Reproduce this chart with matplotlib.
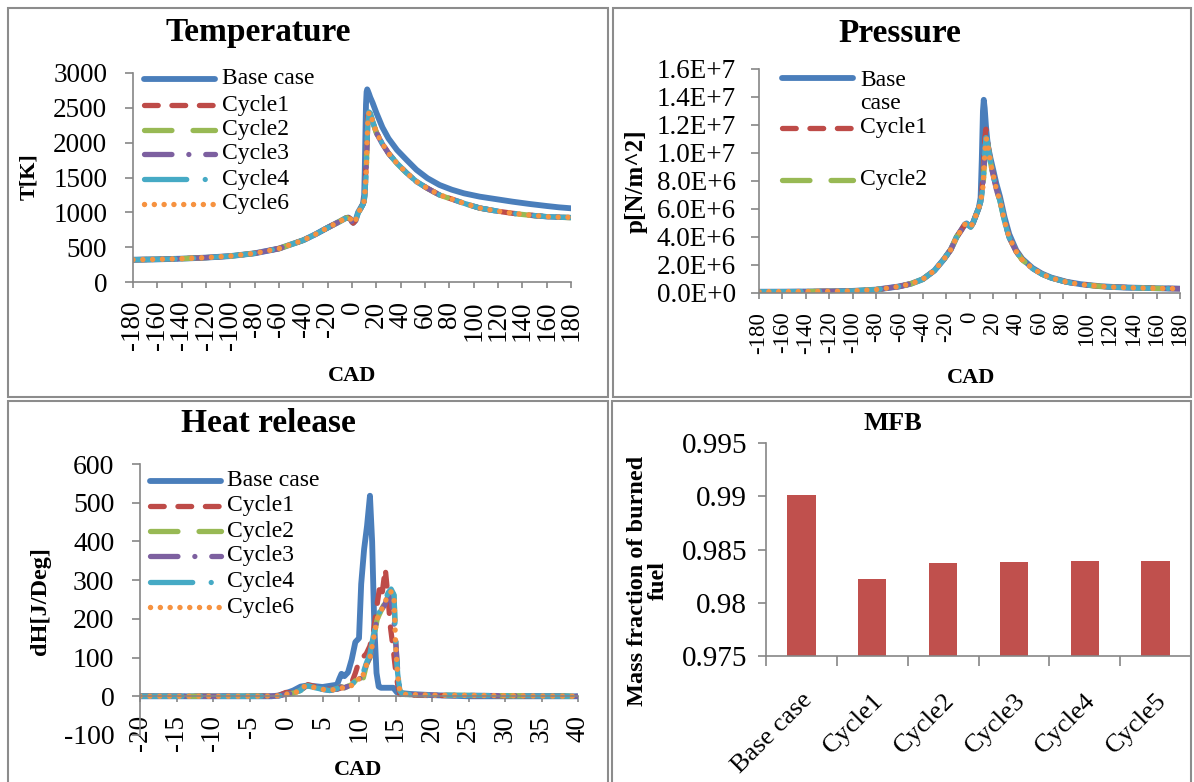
import matplotlib
matplotlib.use("Agg")
import matplotlib.pyplot as plt
from matplotlib.lines import Line2D
from matplotlib.patches import Rectangle
from matplotlib.ticker import FuncFormatter, MultipleLocator, FixedLocator

plt.rcParams['font.family'] = ['Liberation Serif', 'DejaVu Serif']
plt.rcParams['axes.unicode_minus'] = False

W, H = 1194, 782

# ---------------- data ----------------
series_names = ['Base case', 'Cycle1', 'Cycle2', 'Cycle3', 'Cycle4', 'Cycle6']

# Temperature [K]; compression part (-180..0) is shared by all runs
temp_cad_early = [-180, -160, -140, -120, -100, -80, -60, -40, -30, -20, -10, -5, -3, -1, 0]
temp_early = [320, 325, 335, 350, 372, 412, 480, 600, 685, 780, 870, 918, 925, 900, 865]
temp_cad_late = [1, 3, 5, 7, 9, 10, 10.5, 11, 11.5, 12, 12.5, 13, 14, 15, 17, 20, 25, 30, 37,
                 45, 53, 62, 72, 82, 92, 105, 120, 132, 146, 160, 170, 180]
temp_base = [850, 885, 1000, 1060, 1120, 1250, 1600, 2100, 2550, 2730, 2765, 2745, 2700, 2650,
             2570, 2430, 2220, 2060, 1895, 1750, 1610, 1490, 1392, 1325, 1273, 1225, 1185,
             1153, 1120, 1091, 1072, 1058]
temp_c1 = [845, 885, 990, 1050, 1120, 1170, 1280, 1450, 1650, 1950, 2200, 2380, 2440, 2410,
           2300, 2150, 1985, 1850, 1704, 1565, 1440, 1345, 1249, 1190, 1130, 1062, 1015, 986,
           960, 937, 930, 925]
temp_c2 = [845, 885, 990, 1050, 1115, 1160, 1250, 1380, 1500, 1750, 2050, 2280, 2430, 2420,
           2300, 2140, 1980, 1845, 1700, 1560, 1440, 1343, 1248, 1188, 1128, 1060, 1014, 985,
           958, 936, 929, 924]
temp_c3 = [845, 885, 990, 1050, 1115, 1160, 1250, 1390, 1510, 1760, 2060, 2290, 2435, 2420,
           2300, 2140, 1980, 1845, 1702, 1562, 1441, 1344, 1249, 1189, 1129, 1061, 1015, 986,
           959, 937, 930, 926]
temp_c4 = [845, 885, 990, 1050, 1115, 1160, 1250, 1380, 1505, 1750, 2050, 2285, 2440, 2425,
           2305, 2145, 1985, 1848, 1704, 1564, 1442, 1345, 1250, 1190, 1130, 1062, 1016, 987,
           960, 938, 931, 925]
temp_c6 = [845, 885, 990, 1050, 1115, 1160, 1250, 1385, 1505, 1755, 2055, 2285, 2440, 2425,
           2305, 2145, 1985, 1848, 1704, 1564, 1442, 1345, 1250, 1190, 1130, 1062, 1016, 987,
           960, 938, 931, 928]

# Pressure [N/m^2], in units of 1e6; compression part shared
pres_cad_early = [-180, -160, -140, -120, -100, -80, -60, -50, -40, -30, -22, -16, -11, -7, -4,
                  -2.5, -1, 1]
pres_early = [0.09, 0.095, 0.105, 0.12, 0.15, 0.24, 0.47, 0.66, 0.98, 1.6, 2.4, 3.1, 4.0, 4.5,
              4.9, 4.97, 4.85, 4.72]
pres_cad_late = [3, 5.5, 8, 9.5, 10.5, 11.5, 12.2, 13, 14, 15, 16, 18, 20, 23, 26, 30, 34, 40,
                 45, 54, 62, 70, 83, 95, 111, 125, 140, 160, 180]
pres_base = [5.0, 5.55, 6.1, 6.8, 9.5, 13.0, 13.8, 13.2, 12.0, 11.1, 10.4, 9.6, 8.9, 7.8, 6.9,
             5.4, 4.2, 3.05, 2.45, 1.78, 1.38, 1.1, 0.8, 0.63, 0.49, 0.42, 0.38, 0.34, 0.31]
pres_c1 = [5.0, 5.55, 6.1, 6.5, 7.2, 8.3, 9.6, 11.0, 11.7, 11.2, 10.5, 9.4, 8.6, 7.5, 6.7,
           5.2, 4.0, 3.0, 2.4, 1.75, 1.35, 1.08, 0.79, 0.62, 0.48, 0.42, 0.38, 0.34, 0.31]
pres_c2 = [5.0, 5.55, 6.1, 6.5, 7.0, 7.6, 8.4, 9.8, 11.0, 11.0, 10.4, 9.3, 8.5, 7.4, 6.6,
           5.1, 3.95, 2.95, 2.38, 1.74, 1.34, 1.07, 0.78, 0.61, 0.48, 0.41, 0.37, 0.33, 0.31]
pres_c3 = [5.0, 5.55, 6.1, 6.5, 7.0, 7.7, 8.5, 9.9, 11.1, 11.0, 10.4, 9.3, 8.5, 7.4, 6.6,
           5.1, 3.95, 2.95, 2.38, 1.74, 1.34, 1.07, 0.78, 0.61, 0.48, 0.41, 0.37, 0.33, 0.31]
pres_c4 = [5.0, 5.55, 6.1, 6.5, 7.0, 7.6, 8.5, 9.9, 11.1, 11.0, 10.4, 9.3, 8.5, 7.4, 6.6,
           5.1, 3.95, 2.95, 2.38, 1.74, 1.34, 1.07, 0.78, 0.61, 0.48, 0.41, 0.37, 0.33, 0.31]
pres_c6 = [5.0, 5.55, 6.1, 6.5, 7.0, 7.6, 8.5, 9.9, 11.0, 11.0, 10.4, 9.3, 8.5, 7.4, 6.6,
           5.1, 3.95, 2.95, 2.38, 1.74, 1.34, 1.07, 0.78, 0.61, 0.48, 0.41, 0.37, 0.33, 0.31]

# Heat release [J/Deg]
hr_cad_base = [-20, -10, -2, -1, 0, 1, 2, 3, 4, 5, 6, 7, 7.3, 7.6, 8, 8.5, 9, 9.5, 10, 10.3,
               10.7, 11.1, 11.5, 11.8, 12.1, 12.4, 12.7, 13, 14, 14.7, 15.2, 16, 17, 20, 25, 40]
hr_base = [0, 0, 0, 2, 8, 15, 25, 28, 26, 24, 27, 30, 45, 58, 52, 62, 95, 140, 150, 290,
           380, 440, 518, 400, 180, 60, 25, 22, 22, 22, 10, 8, 6, 3, 0, 0]
hr_cad_c1 = [-20, -5, -1, 0, 1, 2, 3, 4, 5, 6, 7, 8, 9, 9.5, 10, 10.5, 11, 11.5, 12, 12.5,
             12.9, 13.2, 13.6, 14, 14.3, 14.7, 15, 15.3, 15.6, 16, 20, 40]
hr_c1 = [0, 0, 2, 10, 8, 15, 30, 25, 20, 18, 18, 25, 35, 60, 90, 100, 110, 130, 170, 240,
         290, 270, 330, 250, 180, 120, 70, 30, 5, 3, 2, 0]
hr_cad_cyc = [-20, -5, -1, 0, 1, 2, 2.5, 3, 4, 5, 6, 7, 7.5, 8, 9, 9.5, 10, 10.3, 11, 11.5,
              12, 12.5, 13, 13.5, 14, 14.4, 14.8, 15, 15.3, 15.6, 16, 20, 40]
hr_c2 = [0, 0, 1, 5, 8, 15, 25, 27, 22, 18, 15, 20, 25, 22, 30, 40, 45, 25, 80, 100, 150, 200,
         220, 240, 265, 275, 260, 150, 60, 15, 5, 3, 0]
hr_c3 = [0, 0, 1, 5, 8, 15, 24, 26, 22, 18, 15, 19, 24, 22, 30, 42, 50, 40, 82, 102, 150,
         205, 222, 235, 260, 250, 190, 150, 65, 15, 5, 3, 0]
hr_c4 = [0, 0, 1, 5, 8, 15, 25, 27, 22, 18, 15, 20, 24, 21, 30, 40, 48, 45, 85, 110, 160, 205,
         225, 245, 268, 277, 262, 150, 58, 14, 5, 3, 0]
hr_c6 = [0, 0, 1, 5, 8, 15, 25, 27, 22, 18, 15, 19, 23, 20, 28, 38, 45, 40, 80, 100, 150, 200,
         220, 240, 263, 270, 255, 140, 55, 12, 5, 3, 0]

# Mass fraction burned
mfb_labels = ['Base case', 'Cycle1', 'Cycle2', 'Cycle3', 'Cycle4', 'Cycle5']
mfb_values = [0.9901, 0.9822, 0.9837, 0.9838, 0.9839, 0.9839]

# ---------------- styles ----------------
styles = {
    'Base case': dict(color='#4A7EBB', lw=4.2, ls='-', solid_capstyle='round'),
    'Cycle1': dict(color='#BE4B48', lw=3.8, dashes=(2.6, 2.6), dash_capstyle='round'),
    'Cycle2': dict(color='#98B954', lw=3.8, dashes=(5.2, 4.0), dash_capstyle='round'),
    'Cycle3': dict(color='#7D60A0', lw=3.8, dashes=(5.2, 3.2, 0.01, 3.2), dash_capstyle='round'),
    'Cycle4': dict(color='#46AAC5', lw=3.8, dashes=(8.0, 3.5, 0.01, 3.5), dash_capstyle='round'),
    'Cycle6': dict(color='#F69240', lw=3.9, dashes=(0.01, 1.8), dash_capstyle='round'),
}

fig = plt.figure(figsize=(W / 100, H / 100), dpi=100)


def fx(x):
    return x / W


def fy(y):
    return 1 - y / H


def axes_px(left, top, right, bottom):
    return fig.add_axes([fx(left), fy(bottom), (right - left) / W, (bottom - top) / H])


def style_axes(ax):
    for s in ['top', 'right']:
        ax.spines[s].set_visible(False)
    for s in ['left', 'bottom']:
        ax.spines[s].set_color('#868686')
        ax.spines[s].set_linewidth(1.2)
    ax.tick_params(color='#868686', width=1.2, direction='out')
    ax.tick_params(axis='y', length=5.5, pad=13)
    ax.tick_params(axis='x', length=4.5, pad=9)


def draw_legend(entries, x0, x1, xt, fs):
    for name, y, ty in entries:
        st = dict(styles[name])
        fig.add_artist(Line2D([fx(x0), fx(x1)], [fy(y), fy(y)], transform=fig.transFigure, **st))
        label = name if ty is None else name.replace(' ', '\n')
        fig.text(fx(xt), fy(y if ty is None else ty), label, fontsize=fs, va='center',
                 ha='left', linespacing=1.1)


# panel frames
for l, t, r, b in [(8, 8, 608, 397), (613, 8, 1191, 397), (8, 401, 608, 790), (612, 401, 1191, 790)]:
    fig.add_artist(Rectangle((fx(l), fy(b)), (r - l) / W, (b - t) / H, transform=fig.transFigure,
                             fill=False, edgecolor='#8c8c8c', lw=1.5))

# ---------------- Temperature ----------------
ax1 = axes_px(133, 73, 571, 282)
style_axes(ax1)
temp_series = [temp_base, temp_c1, temp_c2, temp_c3, temp_c4, temp_c6]
for name, tail in zip(series_names, temp_series):
    ax1.plot(temp_cad_early + temp_cad_late, temp_early + tail, **styles[name])
ax1.set_xlim(-180, 180)
ax1.set_ylim(0, 3000)
ax1.xaxis.set_major_locator(MultipleLocator(20))
ax1.yaxis.set_major_locator(MultipleLocator(500))
ax1.tick_params(axis='x', labelrotation=90, labelsize=19.5)
ax1.tick_params(axis='y', labelsize=19.5)
fig.text(fx(258), fy(33), 'Temperature', fontsize=24, fontweight='bold', ha='center', va='center')
fig.text(fx(29), fy(177), 'T[K]', fontsize=16, fontweight='bold', rotation=90, ha='center', va='center')
fig.text(fx(352), fy(376), 'CAD', fontsize=16, fontweight='bold', ha='center', va='center')
draw_legend([(n, y, None) for n, y in zip(series_names, [79, 105, 130, 154, 179, 204])],
            144, 215, 222, 17)

# ---------------- Pressure ----------------
ax2 = axes_px(759, 69, 1180, 293)
style_axes(ax2)
pres_series = [pres_base, pres_c1, pres_c2, pres_c3, pres_c4, pres_c6]
for name, tail in zip(series_names, pres_series):
    vals = [v * 1e6 for v in pres_early + tail]
    ax2.plot(pres_cad_early + pres_cad_late, vals, **styles[name])
ax2.set_xlim(-180, 180)
ax2.set_ylim(0, 1.6e7)
ax2.xaxis.set_major_locator(MultipleLocator(20))
ax2.yaxis.set_major_locator(MultipleLocator(2e6))


def sci_fmt(v, pos):
    if v == 0:
        return '0.0E+0'
    e = 6 if v < 1e7 else 7
    return '%.1fE+%d' % (v / 10 ** e, e)


ax2.yaxis.set_major_formatter(FuncFormatter(sci_fmt))
ax2.tick_params(axis='x', labelrotation=90, labelsize=16.5)
ax2.tick_params(axis='y', labelsize=19.5, pad=11)
fig.text(fx(900), fy(33), 'Pressure', fontsize=24, fontweight='bold', ha='center', va='center')
fig.text(fx(636), fy(181), 'p[N/m^2]', fontsize=18, fontweight='bold', rotation=90, ha='center', va='center')
fig.text(fx(971), fy(378), 'CAD', fontsize=16, fontweight='bold', ha='center', va='center')
draw_legend([('Base case', 78, 92), ('Cycle1', 128, None), ('Cycle2', 180, None)],
            782, 853, 860, 17)

# ---------------- Heat release ----------------
ax3 = axes_px(140, 464, 578, 735)
style_axes(ax3)
hr_data = [(hr_cad_base, hr_base), (hr_cad_c1, hr_c1), (hr_cad_cyc, hr_c2),
           (hr_cad_cyc, hr_c3), (hr_cad_cyc, hr_c4), (hr_cad_cyc, hr_c6)]
for name, (xs, ys) in zip(series_names, hr_data):
    ax3.plot(xs, ys, **styles[name])
ax3.set_xlim(-20, 40)
ax3.set_ylim(-100, 600)
ax3.spines['bottom'].set_position(('data', 0))
ax3.xaxis.set_major_locator(MultipleLocator(5))
ax3.yaxis.set_major_locator(MultipleLocator(100))
ax3.tick_params(axis='x', labelrotation=90, labelsize=19.5)
ax3.tick_params(axis='y', labelsize=20, pad=13)
fig.text(fx(268), fy(424), 'Heat release', fontsize=24, fontweight='bold', ha='center', va='center')
fig.text(fx(41), fy(601), 'dH[J/Deg]', fontsize=17.5, fontweight='bold', rotation=90, ha='center', va='center')
fig.text(fx(358), fy(770), 'CAD', fontsize=16, fontweight='bold', ha='center', va='center')
draw_legend([(n, y, None) for n, y in zip(series_names, [481, 506, 531, 556, 582, 607])],
            150, 221, 227, 17)

# ---------------- MFB ----------------
ax4 = axes_px(766, 443, 1191, 656)
style_axes(ax4)
ax4.bar(range(len(mfb_values)), mfb_values, width=0.4, color='#C0504D')
ax4.set_xlim(-0.5, len(mfb_values) - 0.5)
ax4.set_ylim(0.975, 0.995)
ax4.yaxis.set_major_locator(MultipleLocator(0.005))
ax4.yaxis.set_major_formatter(FuncFormatter(lambda v, p: ('%.3f' % v).rstrip('0')))
ax4.set_xticks(range(len(mfb_labels)))
ax4.set_xticklabels(mfb_labels, rotation=45, ha='right', rotation_mode='anchor')
ax4.xaxis.set_minor_locator(FixedLocator([i - 0.5 for i in range(len(mfb_values) + 1)]))
ax4.tick_params(axis='x', which='major', length=0, labelsize=19, pad=24)
ax4.tick_params(axis='x', which='minor', length=7, color='#868686', width=1.2)
ax4.tick_params(axis='y', labelsize=21, pad=8)
fig.text(fx(893), fy(423), 'MFB', fontsize=19, fontweight='bold', ha='center', va='center')
fig.text(fx(648), fy(581), 'Mass fraction of burned\nfuel', fontsize=17.5, fontweight='bold',
         rotation=90, ha='center', va='center', multialignment='center', linespacing=1.0)

fig.savefig('out.png', dpi=100)
